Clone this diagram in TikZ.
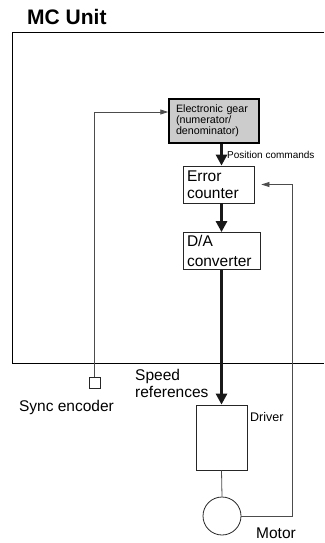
\documentclass[tikz,border=0pt]{standalone}
\usepackage{fontspec}
\setmainfont{Liberation Sans}
\usetikzlibrary{arrows.meta,positioning,calc}

\begin{document}
\begin{tikzpicture}[
    x=1pt,y=-1pt,
    box/.style={rectangle,draw=black!85,line width=0.8pt,inner sep=0pt,font=\fontsize{15.5}{17}\selectfont,align=left},
    gearbox/.style={rectangle,draw=black,line width=1.4pt,fill=black!20,inner sep=0pt,font=\fontsize{10.7}{11}\selectfont,align=left},
    flow/.style={-{Triangle[length=11pt,width=11pt]},line width=3.3pt,black!90},
    link/.style={-{Triangle[length=8pt,width=5pt]},line width=0.8pt,black!70},
    wire/.style={line width=0.8pt,black!70},
    note/.style={font=\fontsize{15.5}{17}\selectfont,align=left,inner sep=0pt},
]
\useasboundingbox (0,0) rectangle (324,543);

% MC Unit frame, open on the right
\node[font=\fontsize{21}{24}\selectfont\bfseries,anchor=base west,inner sep=0pt] (title) at (27,25) {MC Unit};
\draw[line width=0.9pt] (324,32) -- (12,32) -- (12,363) -- (324,363);

\node[gearbox,minimum width=90pt,minimum height=44pt,text width=76pt] (gear) at (214,121) {Electronic gear\\(numerator/\\denominator)};
\node[box,minimum width=71pt,minimum height=37pt,text width=63pt]    (error) at (218.5,184.5) {Error\\counter};
\node[box,minimum width=77pt,minimum height=37pt,text width=69pt,font=\fontsize{15.5}{20}\selectfont] (da) at (221.5,251) {D/A\\converter};
\node[box,minimum width=51pt,minimum height=65pt] (driver) at (221.5,437.5) {};
\node[circle,draw=black!85,line width=0.8pt,minimum size=38pt,inner sep=0pt] (motor) at (222,516) {};
\node[rectangle,draw=black!85,line width=0.8pt,minimum size=11pt,inner sep=0pt] (enc) at (94.5,382.5) {};

\node[note,font=\fontsize{10}{12}\selectfont,anchor=west] (poscmd) at (227,155) {Position commands};
\node[note,anchor=west]   (speed)    at (135,383.5) {Speed\\references};
\node[note,font=\fontsize{12.5}{14}\selectfont,anchor=west] (drvlbl) at (250,417) {Driver};
\node[note,anchor=west]   (motorlbl) at (256,533) {Motor};
\node[note]               (enclbl)   at (66.5,407) {Sync encoder};

\draw[flow] (gear.south -| driver.north) -- (error.north -| driver.north);
\draw[flow] (error.south -| driver.north) -- (da.north -| driver.north);
\draw[flow] (da.south -| driver.north) -- (driver.north);
\draw[wire] (driver.south) -- (motor.north);
\draw[link,shorten >=7pt] (motor.east) -| ($(error.east)+(38,0)$) -- (error.east);
\draw[link] (enc.north) |- ([yshift=9pt]gear.west);
\end{tikzpicture}
\end{document}
